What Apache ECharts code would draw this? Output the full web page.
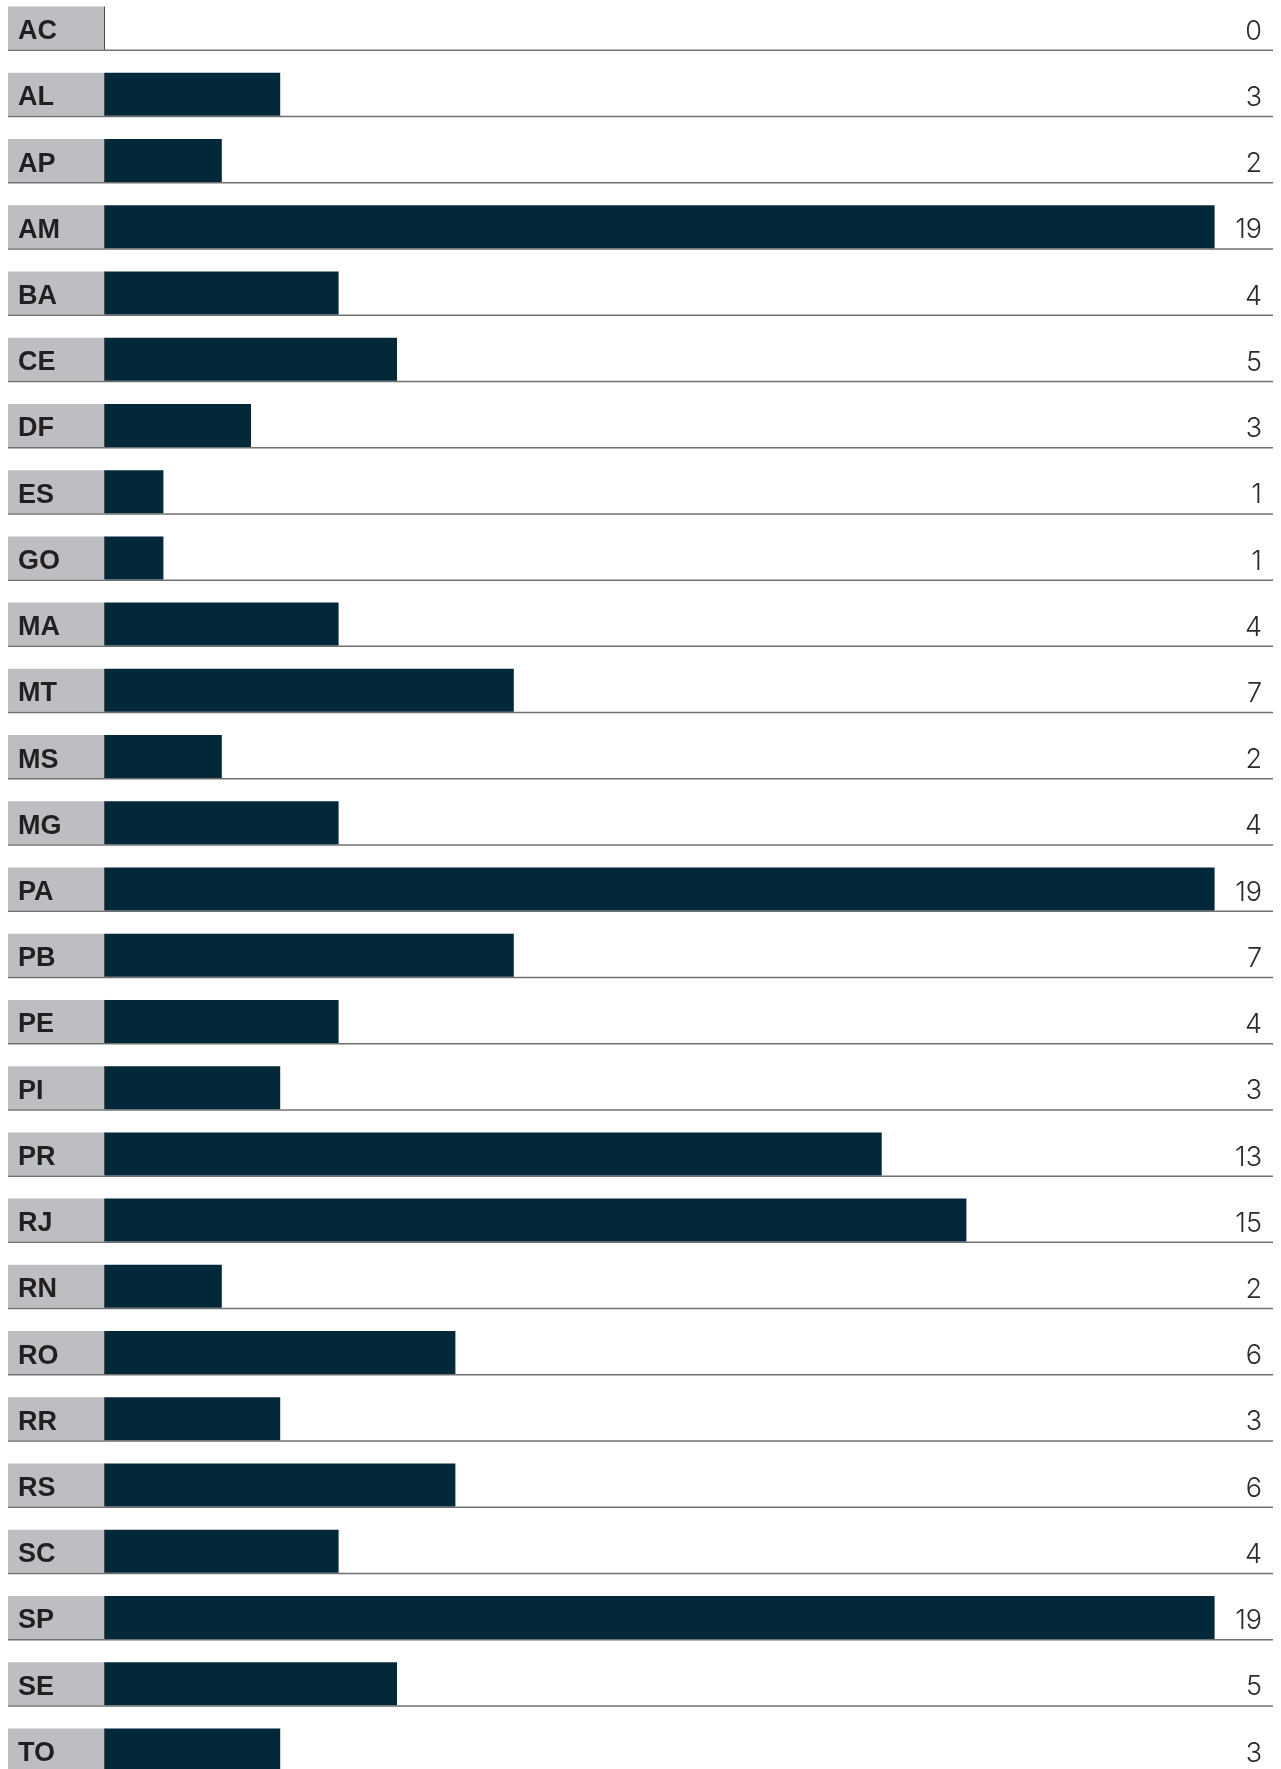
<!DOCTYPE html>
<html>
    <head>
        <meta charset="utf-8">
        <script src="https://cdn.jsdelivr.net/npm/echarts@6/dist/echarts.min.js"></script>
        <style>
            html, body {
                width: 100%;
                height: 100%;
                margin: 0;
                overflow: hidden;
                background: #fff;
            }
            /* chart is a bit taller than the window, the last row is cut off like in the original */
            #main {
                position: absolute;
                left: 0;
                top: -4.6px;
                width: 1281px;
                height: 1788px;
            }
        </style>
    </head>
    <body>
        <div id="main"></div>
        <script>
            // state codes, top to bottom
            var states = ['AC', 'AL', 'AP', 'AM', 'BA', 'CE', 'DF', 'ES', 'GO', 'MA',
                'MT', 'MS', 'MG', 'PA', 'PB', 'PE', 'PI', 'PR', 'RJ', 'RN',
                'RO', 'RR', 'RS', 'SC', 'SP', 'SE', 'TO'];

            // bar lengths (labels show them rounded)
            var values = [0, 3, 2, 19, 4, 5, 2.5, 1, 1, 4,
                7, 2, 4, 19, 7, 4, 3, 13.3, 14.75, 2,
                6, 3, 6, 4, 19, 5, 3];

            var xMax = 20;

            var BAR_H = 43;
            var BOX_LEFT = 8;

            var chart = echarts.init(document.getElementById('main'));

            function renderRow(params, api) {
                var idx = api.value(0);
                var p0 = api.coord([0, idx]);
                var pEnd = api.coord([xMax, idx]);
                var cy = p0[1];
                var top = cy - BAR_H / 2;
                var bottom = cy + BAR_H / 2;
                return {
                    type: 'group',
                    children: [{
                        type: 'rect',
                        shape: {x: BOX_LEFT, y: top, width: p0[0] - BOX_LEFT, height: BAR_H},
                        style: {fill: '#bdbec2'}
                    }, {
                        type: 'line',
                        shape: {x1: p0[0] - 0.5, y1: top, x2: p0[0] - 0.5, y2: bottom},
                        style: {stroke: '#4a4a4a', lineWidth: 1}
                    }, {
                        type: 'line',
                        shape: {x1: BOX_LEFT, y1: bottom + 0.75, x2: pEnd[0], y2: bottom + 0.75},
                        style: {stroke: '#707070', lineWidth: 1.5}
                    }, {
                        type: 'text',
                        x: 18,
                        y: cy + 3.5,
                        style: {
                            text: states[idx],
                            fill: '#231f20',
                            font: 'bold 27px "Liberation Sans", Arial, sans-serif',
                            verticalAlign: 'middle',
                            align: 'left'
                        }
                    }, {
                        type: 'text',
                        x: pEnd[0] - 11,
                        y: cy + 3.5,
                        style: {
                            text: String(Math.round(values[idx])),
                            fill: '#2b2b2b',
                            font: '300 27px Inter, Roboto, sans-serif',
                            verticalAlign: 'middle',
                            align: 'right'
                        }
                    }]
                };
            }

            chart.setOption({
                animation: false,
                grid: {
                    left: 105,
                    right: 8,
                    top: 0,
                    bottom: 0
                },
                xAxis: {
                    type: 'value',
                    min: 0,
                    max: xMax,
                    show: false
                },
                yAxis: {
                    type: 'category',
                    data: states,
                    inverse: true,
                    show: false
                },
                series: [{
                    type: 'custom',
                    renderItem: renderRow,
                    data: states.map(function (s, i) { return [i]; }),
                    encode: {y: 0},
                    z: 1
                }, {
                    type: 'bar',
                    data: values,
                    barWidth: BAR_H,
                    itemStyle: {color: '#03283a'},
                    z: 2
                }]
            });
        </script>
    </body>
</html>
